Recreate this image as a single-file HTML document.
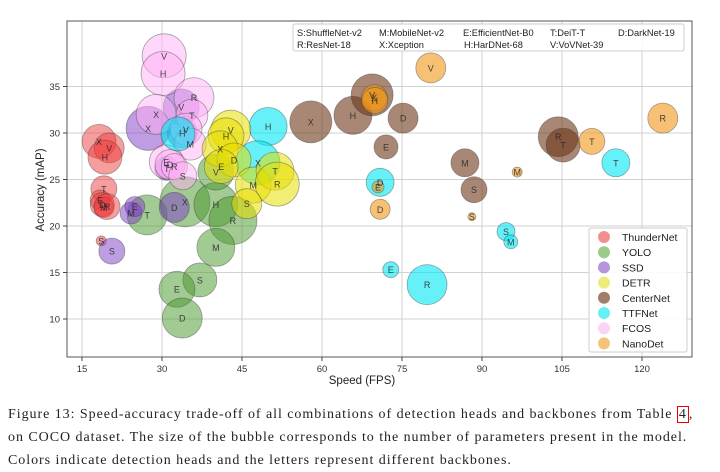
<!DOCTYPE html>
<html><head><meta charset="utf-8"><style>
body{margin:0;background:#fff;width:720px;height:467px;overflow:hidden;position:relative}
svg{position:absolute;left:0;top:0}
.cap{position:absolute;left:8px;top:403px;width:712px;font-family:"Liberation Serif",serif;font-size:14px;letter-spacing:0.95px;line-height:23px;color:#222;white-space:nowrap}
.ref{border:1px solid #e00;padding:0 1px}
</style></head><body>
<svg id="chart" width="720" height="400" font-family="Liberation Sans, DejaVu Sans, sans-serif"></svg>
<div class="cap">Figure 13: Speed-accuracy trade-off of all combinations of detection heads and backbones from Table <span class="ref">4</span>,<br>on COCO dataset. The size of the bubble corresponds to the number of parameters present in the model.<br>Colors indicate detection heads and the letters represent different backbones.</div>
<script>
const heads=["ThunderNet","YOLO","SSD","DETR","CenterNet","TTFNet","FCOS","NanoDet"];
const headColors=["rgba(238,60,60,0.5)","rgba(70,150,40,0.5)","rgba(125,60,200,0.5)","rgba(232,222,0,0.55)","rgba(110,55,25,0.6)","rgba(0,232,245,0.6)","rgba(255,175,245,0.5)","rgba(242,152,25,0.6)"];
const legendColors=["#f19090","#9cc98c","#b596de","#eeeb7a","#a07e6c","#66f0f5","#fbd3f5","#f4c37a"];
const xTicks=[15,30,45,60,75,90,105,120];
const yTicks=[10,15,20,25,30,35];
// bubble data: head index, backbone letter, FPS, mAP, size
const bHead=[0,0,0,0,0,0,0,0,0, 1,1,1,1,1,1,1,1,1, 2,2,2,2,2,2,2,2, 6,6,6,6,6,6,6,6,6,6,6, 5,5,5,5,5,5,5,5,5, 3,3,3,3,3,3,3,3,3, 4,4,4,4,4,4,4,4,4, 7,7,7,7,7,7,7,7,7];
const bLetter=["X","V","H","T","E","D","M","R","S", "T","X","H","R","M","S","E","D","V", "X","S","M","E","D","V","H","T", "V","H","R","T","X","V","M","E","D","R","S", "","H","X","D","E","R","S","M","T", "V","H","X","D","E","M","T","R","S", "X","H","V","D","E","M","S","R","T", "V","X","H","D","E","M","S","T","R"];
const bFps=[18.2,20.1,19.3,19.1,18.4,18.8,19.1,19.7,18.6, 27.2,34.3,40.1,43.3,40.1,37.1,32.8,33.8,40.1, 27.4,20.6,24.2,24.9,32.3,33.6,33.8,30.9, 30.4,30.2,36.0,35.6,28.9,34.5,35.3,30.8,31.5,32.3,33.9, 33.0,49.9,48.0,70.9,72.9,79.7,94.5,95.4,115.1, 42.9,42.0,40.9,43.5,41.1,47.1,51.2,51.6,45.9, 57.9,65.8,69.4,75.2,72.0,86.8,88.5,104.3,105.2, 80.4,69.8,69.9,70.9,70.5,96.6,88.1,110.6,123.9];
const bMap=[29.1,28.4,27.4,24.0,22.8,22.3,22.0,22.1,18.4, 21.2,22.6,22.3,20.6,17.7,14.2,13.2,10.1,25.8, 30.5,17.3,21.4,22.1,22.0,32.8,30.0,26.2, 38.3,36.4,33.8,31.9,32.0,30.4,28.8,26.9,26.6,26.4,25.4, 29.9,30.7,26.8,24.7,15.3,13.7,19.4,18.3,26.8, 30.3,29.7,28.3,27.1,26.4,24.4,25.9,24.5,22.4, 31.2,31.9,34.1,31.6,28.5,26.8,23.9,29.6,28.7, 37.0,33.8,33.5,21.8,24.2,25.8,21.0,29.1,31.6];
const bSize=[17,15,17,13,10,12,10,13,5, 20,25,22,24,19,17,18,20,18, 22,13,11,10,15,18,15,12, 22,22,20,16,20,16,16,17,15,13,14, 17,19,22,14,8,20,9,7,14, 20,18,18,17,17,18,19,22,15, 21,19,21,15,12,14,13,20,17, 15,13,13,10,6,5,4,13,15];
const X0=67,X1=692,Y0=21,Y1=357;
const xs=v=>82+(v-15)*80/15;
const ys=v=>319-(v-10)*46.5/5;
const rs=s=>s;
const NS="http://www.w3.org/2000/svg";
const svg=document.getElementById('chart');
function mk(t,a,p){const e=document.createElementNS(NS,t);for(const k in a)e.setAttribute(k,a[k]);(p||svg).appendChild(e);return e;}
// grid
xTicks.forEach(t=>{const l=mk('line',{x1:xs(t),x2:xs(t),y1:Y0,y2:Y1,stroke:'#d2d2d2','stroke-width':1});


mk('line',{x1:xs(t),x2:xs(t),y1:Y1,y2:Y1+4,stroke:'#444'});
const tx=mk('text',{x:xs(t),y:Y1+15,'text-anchor':'middle','font-size':9.5,fill:'#333'});tx.textContent=t;

});
yTicks.forEach(t=>{const l=mk('line',{x1:X0,x2:X1,y1:ys(t),y2:ys(t),stroke:'#d2d2d2','stroke-width':1});


mk('line',{x1:X0-4,x2:X0,y1:ys(t),y2:ys(t),stroke:'#444'});
const tx=mk('text',{x:X0-7,y:ys(t)+3.5,'text-anchor':'end','font-size':9.5,fill:'#333'});tx.textContent=t;

});
// bubbles
const g=mk('g',{});


for(let i=0;i<bFps.length;i++){const h=bHead[i];
const c=mk('circle',{cx:xs(bFps[i]),cy:ys(bMap[i]),r:rs(bSize[i]),fill:headColors[h],stroke:'rgba(60,60,60,0.45)','stroke-width':0.8},g);

}
for(let i=0;i<bFps.length;i++){if(!bLetter[i])continue;
const t=mk('text',{x:xs(bFps[i]),y:ys(bMap[i])+3.5,'text-anchor':'middle','font-size':9,fill:'rgba(40,40,40,0.85)'},g);t.textContent=bLetter[i];

}
// frame
const fr=mk('rect',{x:X0,y:Y0,width:X1-X0,height:Y1-Y0,fill:'none',stroke:'#555','stroke-width':1});


// backbone key
const kb=mk('g',{});


mk('rect',{x:293,y:24,width:391,height:27,rx:2,fill:'rgba(255,255,255,0.85)',stroke:'#ccc'},kb);
[["S:ShuffleNet-v2",297,36],["M:MobileNet-v2",379,36],["E:EfficientNet-B0",463,36],["T:DeiT-T",550,36],["D:DarkNet-19",618,36],["R:ResNet-18",297,48],["X:Xception",379,48],["H:HarDNet-68",464,48],["V:VoVNet-39",550,48]].forEach(a=>{const t=mk('text',{x:a[1],y:a[2],'font-size':9.3,fill:'#222'},kb);t.textContent=a[0];});
// legend
const lg=mk('g',{});


mk('rect',{x:589,y:228,width:98,height:124,rx:2,fill:'rgba(255,255,255,0.9)',stroke:'#ccc'},lg);
heads.forEach((h,i)=>{const y=237+i*15.2;
const c=mk('circle',{cx:604,cy:y,r:6,fill:legendColors[i]},lg);


const t=mk('text',{x:622,y:y+4,'font-size':10.5,fill:'#222'},lg);t.textContent=h;

});
// axis titles
const xt=mk('text',{x:362,y:384,'text-anchor':'middle','font-size':11.5,fill:'#222'});xt.textContent='Speed (FPS)';


const yt=mk('text',{x:0,y:0,'text-anchor':'middle','font-size':11.5,fill:'#222',transform:'translate(44,190) rotate(-90)'});yt.textContent='Accuracy (mAP)';


</script>
</body></html>
